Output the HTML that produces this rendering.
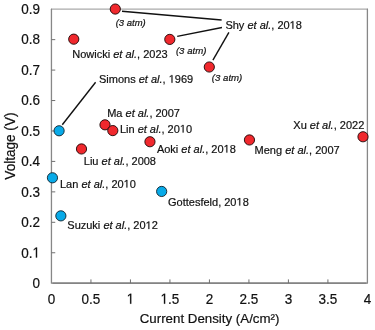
<!DOCTYPE html>
<html><head><meta charset="utf-8"><style>
html,body{margin:0;padding:0;background:#fff;width:375px;height:330px;overflow:hidden}
svg{display:block;will-change:transform;font-family:"Liberation Sans",sans-serif}
</style></head><body>
<svg width="375" height="330" viewBox="0 0 375 330">
<defs><path id="g1" d="M515 0V1237L197 1010V1180L530 1409H696V0Z"/></defs>
<path d="M51.45 9.2 H367.4" fill="none" stroke="#aaaaaa" stroke-width="1.3" stroke-linecap="round"/>
<path d="M51.45 9.2 V283.2 H367.4 V9.2" fill="none" stroke="#878787" stroke-width="1.3" stroke-linejoin="round" stroke-linecap="round"/>
<path d="M52.45 283.2 H366.4" fill="none" stroke="#7a7a7a" stroke-width="1.3"/>
<line x1="51.45" y1="252.76" x2="55.25" y2="252.76" stroke="#707070" stroke-width="1"/>
<line x1="51.45" y1="222.31" x2="55.25" y2="222.31" stroke="#707070" stroke-width="1"/>
<line x1="51.45" y1="191.87" x2="55.25" y2="191.87" stroke="#707070" stroke-width="1"/>
<line x1="51.45" y1="161.42" x2="55.25" y2="161.42" stroke="#707070" stroke-width="1"/>
<line x1="51.45" y1="130.98" x2="55.25" y2="130.98" stroke="#707070" stroke-width="1"/>
<line x1="51.45" y1="100.54" x2="55.25" y2="100.54" stroke="#707070" stroke-width="1"/>
<line x1="51.45" y1="70.09" x2="55.25" y2="70.09" stroke="#707070" stroke-width="1"/>
<line x1="51.45" y1="39.65" x2="55.25" y2="39.65" stroke="#707070" stroke-width="1"/>
<line x1="90.94" y1="283.2" x2="90.94" y2="279.4" stroke="#707070" stroke-width="1"/>
<line x1="130.44" y1="283.2" x2="130.44" y2="279.4" stroke="#707070" stroke-width="1"/>
<line x1="169.94" y1="283.2" x2="169.94" y2="279.4" stroke="#707070" stroke-width="1"/>
<line x1="209.43" y1="283.2" x2="209.43" y2="279.4" stroke="#707070" stroke-width="1"/>
<line x1="248.93" y1="283.2" x2="248.93" y2="279.4" stroke="#707070" stroke-width="1"/>
<line x1="288.42" y1="283.2" x2="288.42" y2="279.4" stroke="#707070" stroke-width="1"/>
<line x1="327.91" y1="283.2" x2="327.91" y2="279.4" stroke="#707070" stroke-width="1"/>
<g transform="translate(0 288.00) scale(1 1.08) translate(0 -288.00)"><text x="40" y="288.00" font-size="13.5" text-anchor="end" fill="#111" stroke="#111" stroke-width="0.2">0</text></g>
<g transform="translate(0 257.56) scale(1 1.08) translate(0 -257.56)"><text x="40" y="257.56" font-size="13.5" text-anchor="end" fill="#111" stroke="#111" stroke-width="0.2">0.<tspan class="one" fill="transparent" stroke="none">1</tspan></text></g>
<g transform="translate(0 227.11) scale(1 1.08) translate(0 -227.11)"><text x="40" y="227.11" font-size="13.5" text-anchor="end" fill="#111" stroke="#111" stroke-width="0.2">0.2</text></g>
<g transform="translate(0 196.67) scale(1 1.08) translate(0 -196.67)"><text x="40" y="196.67" font-size="13.5" text-anchor="end" fill="#111" stroke="#111" stroke-width="0.2">0.3</text></g>
<g transform="translate(0 166.22) scale(1 1.08) translate(0 -166.22)"><text x="40" y="166.22" font-size="13.5" text-anchor="end" fill="#111" stroke="#111" stroke-width="0.2">0.4</text></g>
<g transform="translate(0 135.78) scale(1 1.08) translate(0 -135.78)"><text x="40" y="135.78" font-size="13.5" text-anchor="end" fill="#111" stroke="#111" stroke-width="0.2">0.5</text></g>
<g transform="translate(0 105.34) scale(1 1.08) translate(0 -105.34)"><text x="40" y="105.34" font-size="13.5" text-anchor="end" fill="#111" stroke="#111" stroke-width="0.2">0.6</text></g>
<g transform="translate(0 74.89) scale(1 1.08) translate(0 -74.89)"><text x="40" y="74.89" font-size="13.5" text-anchor="end" fill="#111" stroke="#111" stroke-width="0.2">0.7</text></g>
<g transform="translate(0 44.45) scale(1 1.08) translate(0 -44.45)"><text x="40" y="44.45" font-size="13.5" text-anchor="end" fill="#111" stroke="#111" stroke-width="0.2">0.8</text></g>
<g transform="translate(0 14.00) scale(1 1.08) translate(0 -14.00)"><text x="40" y="14.00" font-size="13.5" text-anchor="end" fill="#111" stroke="#111" stroke-width="0.2">0.9</text></g>
<g transform="translate(0 303.70) scale(1 1.08) translate(0 -303.70)"><text x="51.45" y="303.7" font-size="13.5" text-anchor="middle" fill="#111" stroke="#111" stroke-width="0.2">0</text></g>
<g transform="translate(0 303.70) scale(1 1.08) translate(0 -303.70)"><text x="90.94" y="303.7" font-size="13.5" text-anchor="middle" fill="#111" stroke="#111" stroke-width="0.2">0.5</text></g>
<g transform="translate(0 303.70) scale(1 1.08) translate(0 -303.70)"><text x="130.44" y="303.7" font-size="13.5" text-anchor="middle" fill="#111" stroke="#111" stroke-width="0.2"><tspan class="one" fill="transparent" stroke="none">1</tspan></text></g>
<g transform="translate(0 303.70) scale(1 1.08) translate(0 -303.70)"><text x="169.94" y="303.7" font-size="13.5" text-anchor="middle" fill="#111" stroke="#111" stroke-width="0.2"><tspan class="one" fill="transparent" stroke="none">1</tspan>.5</text></g>
<g transform="translate(0 303.70) scale(1 1.08) translate(0 -303.70)"><text x="209.43" y="303.7" font-size="13.5" text-anchor="middle" fill="#111" stroke="#111" stroke-width="0.2">2</text></g>
<g transform="translate(0 303.70) scale(1 1.08) translate(0 -303.70)"><text x="248.93" y="303.7" font-size="13.5" text-anchor="middle" fill="#111" stroke="#111" stroke-width="0.2">2.5</text></g>
<g transform="translate(0 303.70) scale(1 1.08) translate(0 -303.70)"><text x="288.42" y="303.7" font-size="13.5" text-anchor="middle" fill="#111" stroke="#111" stroke-width="0.2">3</text></g>
<g transform="translate(0 303.70) scale(1 1.08) translate(0 -303.70)"><text x="327.91" y="303.7" font-size="13.5" text-anchor="middle" fill="#111" stroke="#111" stroke-width="0.2">3.5</text></g>
<g transform="translate(0 303.70) scale(1 1.08) translate(0 -303.70)"><text x="367.41" y="303.7" font-size="13.5" text-anchor="middle" fill="#111" stroke="#111" stroke-width="0.2">4</text></g>
<text x="209.6" y="322.9" font-size="13.3" text-anchor="middle" fill="#111" stroke="#111" stroke-width="0.2">Current Density (A/cm²)</text>
<text transform="translate(14.9,146.1) rotate(-90) scale(1.02,1.06)" x="0" y="0" font-size="13.3" text-anchor="middle" fill="#111" stroke="#111" stroke-width="0.2">Voltage (V)</text>
<line x1="122" y1="11.3" x2="221.6" y2="20.0" stroke="#111" stroke-width="1.4"/>
<line x1="177.2" y1="36.4" x2="222.0" y2="27.44" stroke="#111" stroke-width="1.4"/>
<line x1="212.9" y1="60.1" x2="228.9" y2="32.4" stroke="#111" stroke-width="1.4"/>
<line x1="62.3" y1="124.7" x2="95.6" y2="82.3" stroke="#111" stroke-width="1.4"/>
<text x="225.40" y="28.8" font-size="11" fill="#111" stroke="#111" stroke-width="0.2">Shy <tspan font-style='italic'>et al.</tspan>, 20<tspan class="one" fill="transparent" stroke="none">1</tspan>8</text>
<text x="72.30" y="58.2" font-size="11" fill="#111" stroke="#111" stroke-width="0.2">Nowicki <tspan font-style='italic'>et al.</tspan>, 2023</text>
<text x="99.00" y="82.7" font-size="11" fill="#111" stroke="#111" stroke-width="0.2">Simons <tspan font-style='italic'>et al.</tspan>, <tspan class="one" fill="transparent" stroke="none">1</tspan>969</text>
<text x="107.20" y="116.7" font-size="11" fill="#111" stroke="#111" stroke-width="0.2">Ma <tspan font-style='italic'>et al.</tspan>, 2007</text>
<text x="119.90" y="132.5" font-size="11" fill="#111" stroke="#111" stroke-width="0.2">Lin <tspan font-style='italic'>et al.</tspan>, 20<tspan class="one" fill="transparent" stroke="none">1</tspan>0</text>
<text x="83.80" y="165.3" font-size="11" fill="#111" stroke="#111" stroke-width="0.2">Liu <tspan font-style='italic'>et al.</tspan>, 2008</text>
<text x="156.90" y="152.6" font-size="11" fill="#111" stroke="#111" stroke-width="0.2">Aoki <tspan font-style='italic'>et al.</tspan>, 20<tspan class="one" fill="transparent" stroke="none">1</tspan>8</text>
<text x="254.60" y="153.9" font-size="11" fill="#111" stroke="#111" stroke-width="0.2">Meng <tspan font-style='italic'>et al.</tspan>, 2007</text>
<text x="293.30" y="128.9" font-size="11" fill="#111" stroke="#111" stroke-width="0.2">Xu <tspan font-style='italic'>et al.</tspan>, 2022</text>
<text x="60.00" y="187.6" font-size="11" fill="#111" stroke="#111" stroke-width="0.2">Lan <tspan font-style='italic'>et al.</tspan>, 20<tspan class="one" fill="transparent" stroke="none">1</tspan>0</text>
<text x="67.30" y="229.1" font-size="11" fill="#111" stroke="#111" stroke-width="0.2">Suzuki <tspan font-style='italic'>et al.</tspan>, 20<tspan class="one" fill="transparent" stroke="none">1</tspan>2</text>
<text x="168.00" y="205.6" font-size="11" fill="#111" stroke="#111" stroke-width="0.2">Gottesfeld, 20<tspan class="one" fill="transparent" stroke="none">1</tspan>8</text>
<g transform="translate(0 26.3) scale(1 1.03) translate(0 -26.3)"><text x="115.70" y="26.3" font-size="9.5" font-style="italic" fill="#111" stroke="#111" stroke-width="0.2">(3 atm)</text></g>
<g transform="translate(0 53.6) scale(1 1.03) translate(0 -53.6)"><text x="175.90" y="53.6" font-size="9.65" font-style="italic" fill="#111" stroke="#111" stroke-width="0.2">(3 atm)</text></g>
<g transform="translate(0 80.7) scale(1 1.03) translate(0 -80.7)"><text x="211.80" y="80.7" font-size="9.65" font-style="italic" fill="#111" stroke="#111" stroke-width="0.2">(3 atm)</text></g>
<g transform="translate(0 257.56) scale(1 1.08) translate(0 -257.56)"><use href="#g1" transform="translate(32.494 257.560) scale(0.006592 -0.006592)" fill="#111" stroke="#111" stroke-width="30.34"/></g>
<g transform="translate(0 303.70) scale(1 1.08) translate(0 -303.70)"><use href="#g1" transform="translate(126.687 303.700) scale(0.006592 -0.006592)" fill="#111" stroke="#111" stroke-width="30.34"/></g>
<g transform="translate(0 303.70) scale(1 1.08) translate(0 -303.70)"><use href="#g1" transform="translate(160.557 303.700) scale(0.006592 -0.006592)" fill="#111" stroke="#111" stroke-width="30.34"/></g>
<use href="#g1" transform="translate(289.634 28.800) scale(0.005371 -0.005371)" fill="#111" stroke="#111" stroke-width="37.24"/>
<use href="#g1" transform="translate(168.734 82.700) scale(0.005371 -0.005371)" fill="#111" stroke="#111" stroke-width="37.24"/>
<use href="#g1" transform="translate(179.869 132.500) scale(0.005371 -0.005371)" fill="#111" stroke="#111" stroke-width="37.24"/>
<use href="#g1" transform="translate(223.587 152.600) scale(0.005371 -0.005371)" fill="#111" stroke="#111" stroke-width="37.24"/>
<use href="#g1" transform="translate(123.641 187.600) scale(0.005371 -0.005371)" fill="#111" stroke="#111" stroke-width="37.24"/>
<use href="#g1" transform="translate(145.597 229.100) scale(0.005371 -0.005371)" fill="#111" stroke="#111" stroke-width="37.24"/>
<use href="#g1" transform="translate(236.500 205.600) scale(0.005371 -0.005371)" fill="#111" stroke="#111" stroke-width="37.24"/>
<circle cx="115.3" cy="9.05" r="5.1" fill="#f0282d" stroke="#1a0505" stroke-width="0.9"/>
<circle cx="73.75" cy="39.17" r="5.1" fill="#f0282d" stroke="#1a0505" stroke-width="0.9"/>
<circle cx="169.8" cy="39.4" r="5.1" fill="#f0282d" stroke="#1a0505" stroke-width="0.9"/>
<circle cx="209.3" cy="67.0" r="5.1" fill="#f0282d" stroke="#1a0505" stroke-width="0.9"/>
<circle cx="105.0" cy="124.83" r="5.1" fill="#f0282d" stroke="#1a0505" stroke-width="0.9"/>
<circle cx="112.8" cy="130.6" r="5.1" fill="#f0282d" stroke="#1a0505" stroke-width="0.9"/>
<circle cx="81.5" cy="148.95" r="5.1" fill="#f0282d" stroke="#1a0505" stroke-width="0.9"/>
<circle cx="149.95" cy="141.73" r="5.1" fill="#f0282d" stroke="#1a0505" stroke-width="0.9"/>
<circle cx="249.45" cy="139.95" r="5.1" fill="#f0282d" stroke="#1a0505" stroke-width="0.9"/>
<circle cx="363" cy="136.76" r="5.1" fill="#f0282d" stroke="#1a0505" stroke-width="0.9"/>
<circle cx="59.1" cy="130.78" r="5.1" fill="#08aae8" stroke="#10202a" stroke-width="0.9"/>
<circle cx="52.45" cy="177.8" r="5.1" fill="#08aae8" stroke="#10202a" stroke-width="0.9"/>
<circle cx="60.86" cy="215.86" r="5.1" fill="#08aae8" stroke="#10202a" stroke-width="0.9"/>
<circle cx="161.66" cy="191.45" r="5.1" fill="#08aae8" stroke="#10202a" stroke-width="0.9"/>
</svg></body></html>
